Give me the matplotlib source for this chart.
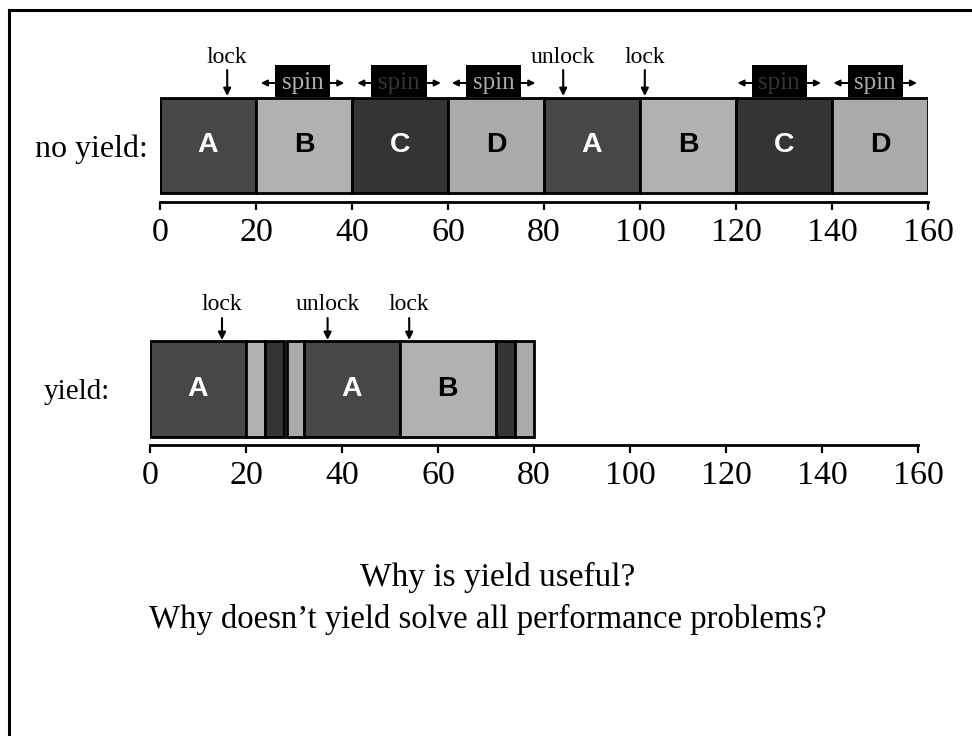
import matplotlib
matplotlib.use("Agg")
import matplotlib.pyplot as plt
from matplotlib.lines import Line2D

# timeline data (time units)
no_yield_names = ["A", "B", "C", "D", "A", "B", "C", "D"]
no_yield_starts = [0, 20, 40, 60, 80, 100, 120, 140]
no_yield_widths = [20, 20, 20, 20, 20, 20, 20, 20]

yield_names = ["A", "", "", "", "A", "B", "", ""]
yield_procs = ["A", "B", "C", "D", "A", "B", "C", "D"]
yield_starts = [0, 20, 24, 28.5, 32, 52, 72, 76]
yield_widths = [20, 4, 4, 3.5, 20, 20, 4, 4]

spin_centers = [29.7, 49.8, 69.5, 129.0, 149.0]
spin_procs = ["B", "C", "D", "C", "D"]

no_yield_events = [("lock", 14), ("unlock", 84), ("lock", 101)]
yield_events = [("lock", 15), ("unlock", 37), ("lock", 54)]

ticks = [0, 20, 40, 60, 80, 100, 120, 140, 160]

proc_face = {"A": "#474747", "B": "#b1b1b1", "C": "#343434", "D": "#aaaaaa"}
proc_text = {"A": "white", "B": "black", "C": "white", "D": "black"}

plt.rcParams["font.family"] = ["Liberation Serif", "DejaVu Serif"]

W, H = 972, 736
fig = plt.figure(figsize=(W / 100, H / 100), dpi=100)


def px_axes(left, top, right, bottom):
    return fig.add_axes([left / W, 1 - bottom / H, (right - left) / W, (bottom - top) / H])


def style_axis(ax, height):
    ax.set_xlim(0, 160)
    ax.set_ylim(0, height)
    for s in ["top", "left", "right"]:
        ax.spines[s].set_visible(False)
    ax.spines["bottom"].set_linewidth(2)
    ax.set_yticks([])
    ax.set_xticks(ticks)
    ax.tick_params(axis="x", direction="out", length=6, width=1.6, labelsize=24.5, pad=5)
    ax.patch.set_alpha(0)


def draw_events(ax, events, label_y, arrow_top, arrow_bot):
    for name, x in events:
        ax.annotate("", xy=(x, arrow_bot), xytext=(x, arrow_top),
                    arrowprops=dict(arrowstyle="-|>", color="black", lw=1.5,
                                    mutation_scale=11, shrinkA=0, shrinkB=0))
        ax.text(x, label_y, name, ha="center", va="center", fontsize=17)


# --- no yield ---
ax1 = px_axes(160, 40, 928, 202)
style_axis(ax1, 162)
box_y, box_h = 9, 95
ax1.bar(no_yield_starts, box_h, width=no_yield_widths, bottom=box_y, align="edge",
        color=[proc_face[p] for p in no_yield_names], edgecolor="black", linewidth=2, zorder=2)
for name, s, w in zip(no_yield_names, no_yield_starts, no_yield_widths):
    ax1.text(s + w / 2, box_y + box_h / 2, name, ha="center", va="center",
             family="Liberation Sans", weight="bold", fontsize=20.5, color=proc_text[name], zorder=3)

for c, p in zip(spin_centers, spin_procs):
    ax1.annotate("", xy=(c - 8.7, 119), xytext=(c + 8.7, 119),
                 arrowprops=dict(arrowstyle="<|-|>", color="black", lw=1.4,
                                 mutation_scale=9, shrinkA=0, shrinkB=0), zorder=2)
    ax1.bar(c, 32, width=11.5, bottom=105, color="black", linewidth=0, zorder=4)
    ax1.text(c, 119, "spin", ha="center", va="center", fontsize=18,
             color=proc_face[p], zorder=5)

draw_events(ax1, no_yield_events, 144, 132, 106)

# --- yield ---
ax2 = px_axes(150, 290, 918, 445)
style_axis(ax2, 155)
box_y2, box_h2 = 8, 96
ax2.bar(yield_starts, box_h2, width=yield_widths, bottom=box_y2, align="edge",
        color=[proc_face[p] for p in yield_procs], edgecolor="black", linewidth=2, zorder=2)
for name, p, s, w in zip(yield_names, yield_procs, yield_starts, yield_widths):
    if name:
        ax2.text(s + w / 2, box_y2 + box_h2 / 2, name, ha="center", va="center",
                 family="Liberation Sans", weight="bold", fontsize=20.5, color=proc_text[p], zorder=3)

draw_events(ax2, yield_events, 140, 127, 105)

# row labels
fig.text(148 / W, 1 - 149 / H, "no yield:", ha="right", va="center", fontsize=23)
fig.text(110 / W, 1 - 392 / H, "yield:", ha="right", va="center", fontsize=21)

# questions
fig.text(498 / W, 1 - 577 / H, "Why is yield useful?", ha="center", va="center", fontsize=24)
fig.text(488 / W, 1 - 619 / H, "Why doesn\u2019t yield solve all performance problems?",
         ha="center", va="center", fontsize=23.6)

# slide frame (left and top edges)
fig.add_artist(Line2D([9 / W, 9 / W], [0, 1 - 10 / H], transform=fig.transFigure,
                      color="black", lw=2.2))
fig.add_artist(Line2D([9 / W, 1], [1 - 10 / H, 1 - 10 / H], transform=fig.transFigure,
                      color="black", lw=2.2))

fig.savefig("out.png", dpi=100)
